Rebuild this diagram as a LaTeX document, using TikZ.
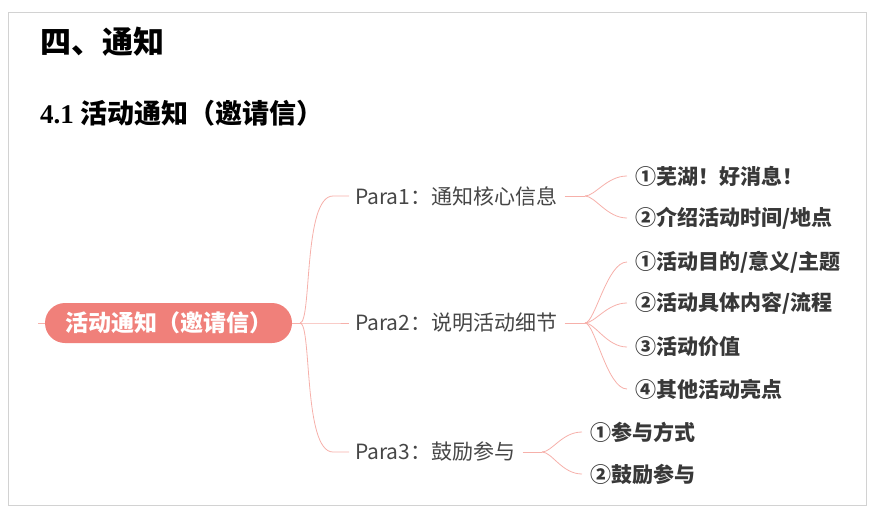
\documentclass[tikz,border=0pt]{standalone}
\usepackage{fontspec}
\setmainfont{Noto Sans CJK SC}
\newfontfamily\latinserif{Liberation Serif}
\usetikzlibrary{positioning, calc}
\definecolor{rootred}{RGB}{240,128,122}
\definecolor{linkred}{RGB}{246,176,170}
\definecolor{txtgray}{RGB}{70,70,70}

\begin{document}
\begin{tikzpicture}[x=1pt, y=-1pt,
        title/.style={anchor=west, inner sep=0pt, font=\fontsize{31}{33}\selectfont\bfseries},
        root/.style={rectangle, rounded corners=20pt, fill=rootred, text=white, minimum width=247pt, minimum height=40pt, font=\fontsize{23}{24}\selectfont\bfseries},
        para/.style={anchor=west, inner sep=0pt, text=txtgray, font=\fontsize{21}{23}\selectfont},
        item/.style={anchor=west, inner sep=0pt, text=txtgray!80!black, font=\fontsize{21}{23}\selectfont\bfseries},
        link/.style={draw=linkred, line width=0.8pt}
    ]
        \useasboundingbox (0,0) rectangle (873,512);
        \draw[gray!35, line width=1pt] (8,12) rectangle (866,505);

        % TITLES
        \node[title] (head) at (40,42) {四、通知};
        \node[title, font=\fontsize{27}{29}\selectfont\bfseries] (sub) at (40,113) {{\latinserif 4.1} 活动通知（邀请信）};

        % ROOT
        \node[root] (main) at (168.5,323) {活动通知（邀请信）};
        \coordinate (mainin) at (38,323);
        \draw[link] (mainin) -- (main.west);

        % PARAGRAPHS
        \node[para] (p1) at (355,196) {Para1：通知核心信息};
        \node[para] (p2) at (355,323) {Para2：说明活动细节};
        \node[para] (p3) at (355,452) {Para3：鼓励参与};

        \coordinate (f0) at (300,323);
        \draw[link] (main.east) -- (f0);
        \foreach \p in {p1,p2,p3}
            \draw[link] (f0) .. controls +(12,0) and +(-30,0) .. ($(\p.west)+(-22,0)$) -- ($(\p.west)+(-6,0)$);

        % ITEMS
        \node[item] (a1) at (635,176) {①芜湖！好消息！};
        \node[item] (a2) at (635,218) {②介绍活动时间/地点};
        \node[item] (b1) at (635,262) {①活动目的/意义/主题};
        \node[item] (b2) at (635,303) {②活动具体内容/流程};
        \node[item] (b3) at (635,347) {③活动价值};
        \node[item] (b4) at (635,389) {④其他活动亮点};
        \node[item] (c1) at (590,432) {①参与方式};
        \node[item] (c2) at (590,474) {②鼓励参与};

        \coordinate (f1) at (585,196);
        \coordinate (f2) at (585,323);
        \coordinate (f3) at (542,452);
        \draw[link] ($(p1.east)+(7,0)$) -- (f1);
        \draw[link] ($(p2.east)+(7,0)$) -- (f2);
        \draw[link] ($(p3.east)+(7,0)$) -- (f3);
        \foreach \f/\c in {f1/a1,f1/a2,f2/b1,f2/b2,f2/b3,f2/b4,f3/c1,f3/c2}
            \draw[link] (\f) .. controls +(10,0) and +(-20,0) .. ($(\c.west)+(-8,0)$);
\end{tikzpicture}
\end{document}
